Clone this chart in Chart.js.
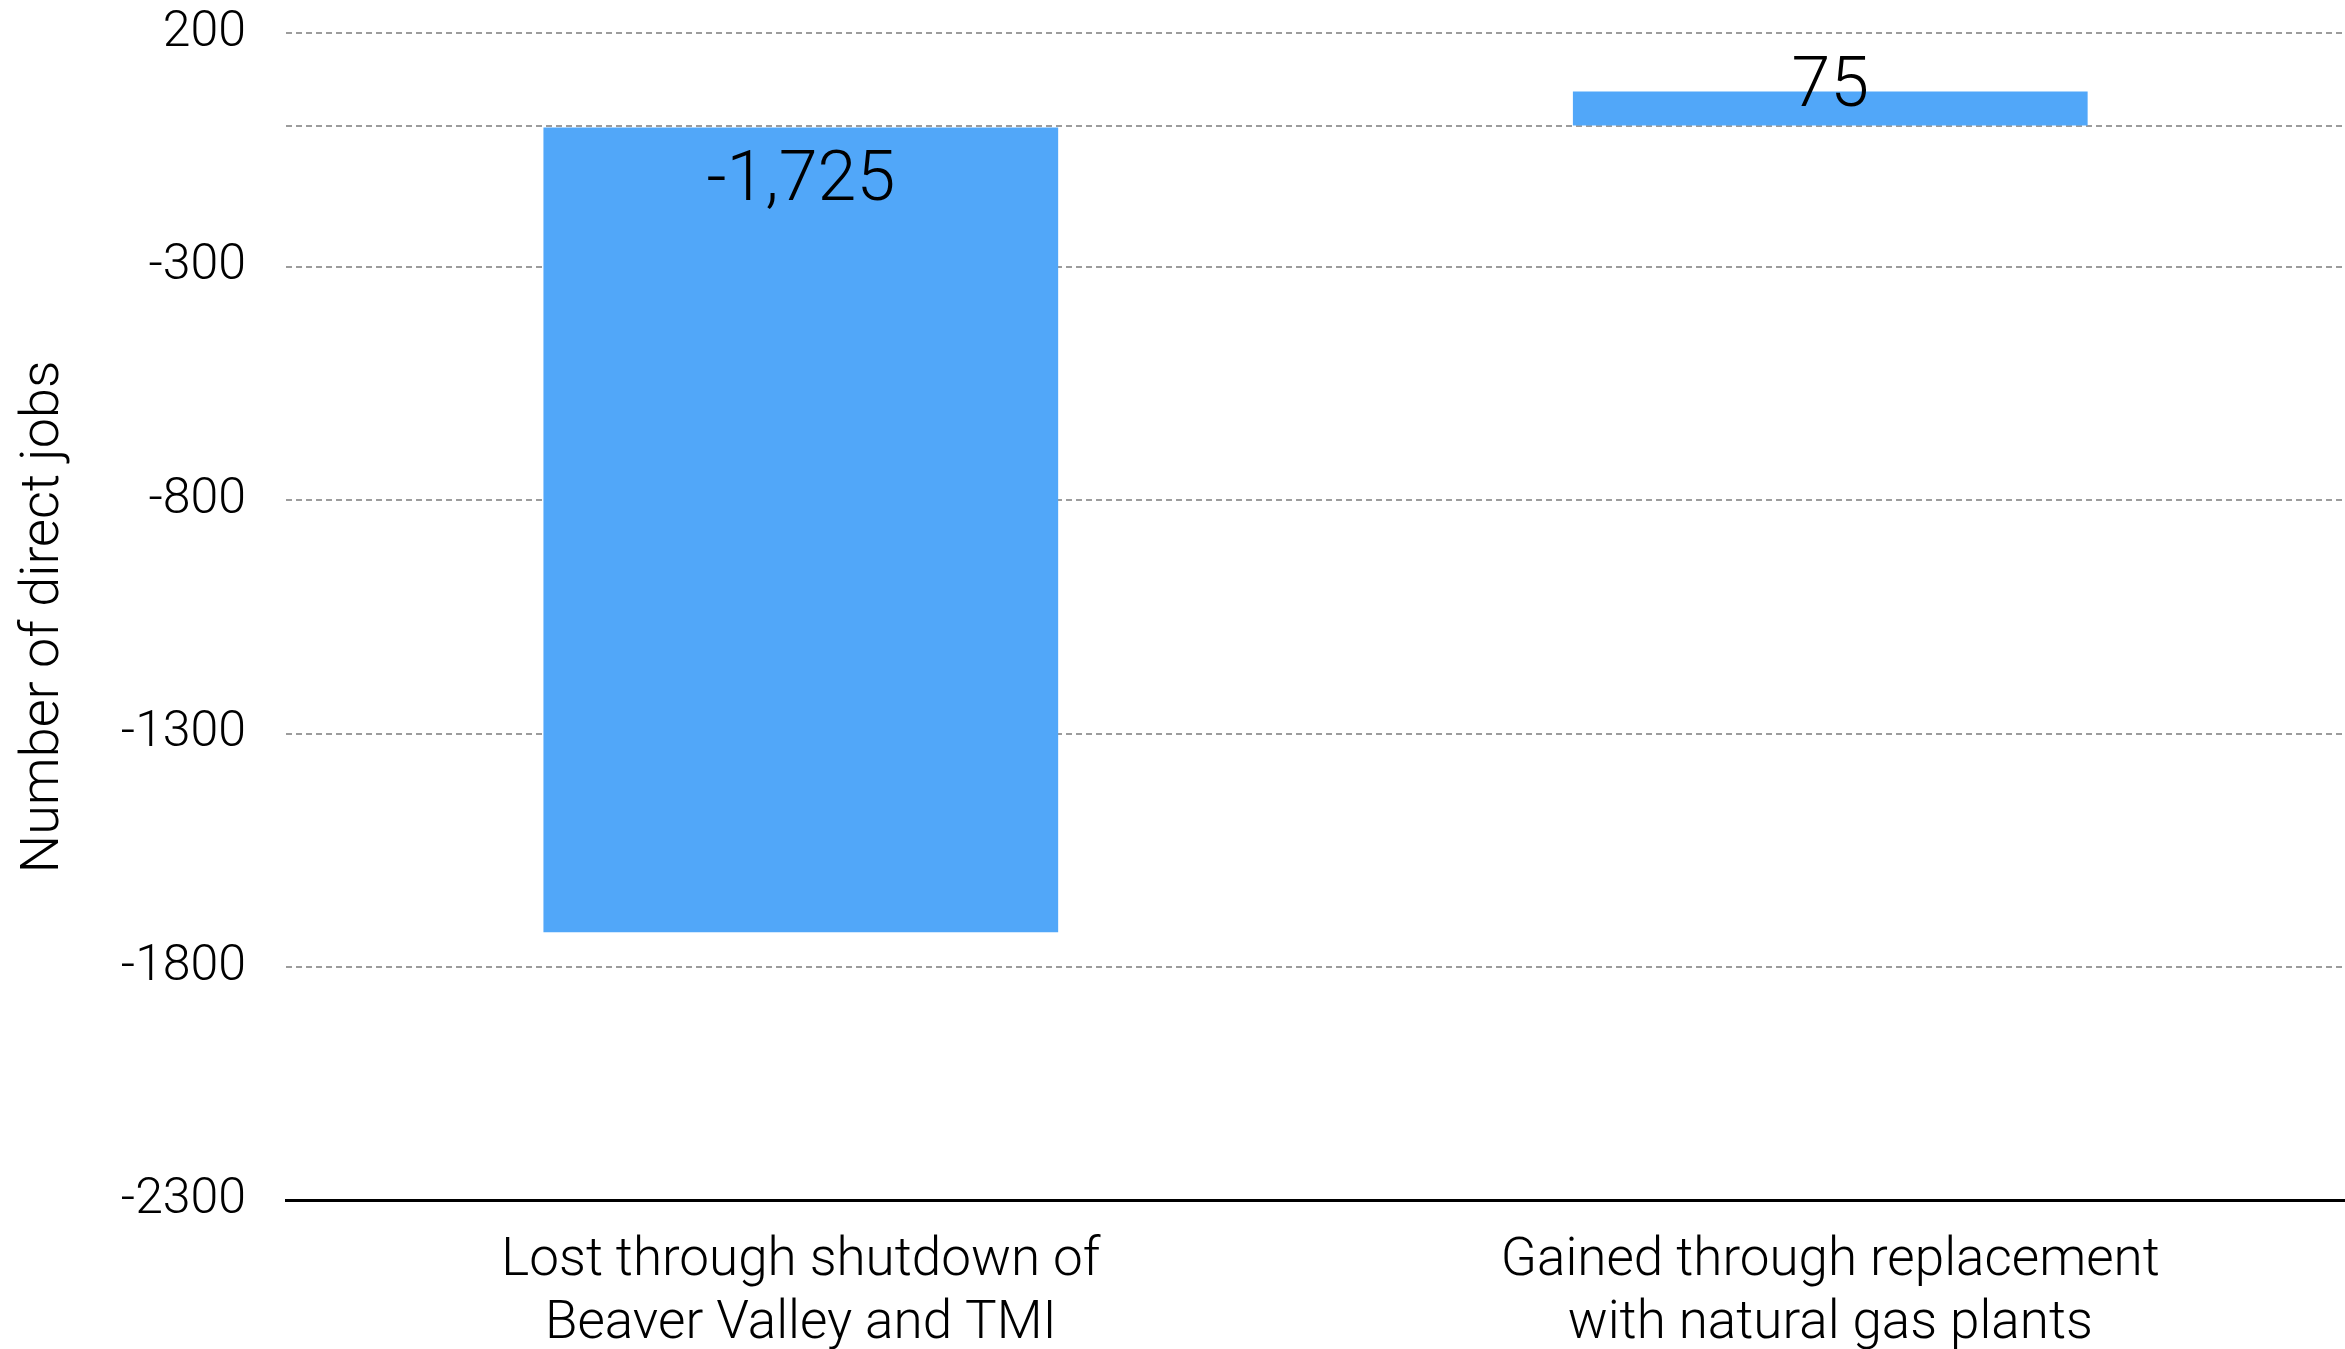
<!DOCTYPE html>
<html>
<head>
<meta charset="utf-8">
<script src="https://cdn.jsdelivr.net/npm/chart.js@4/dist/chart.umd.min.js"></script>
<style>
  html, body { margin: 0; padding: 0; background: #fff; overflow: hidden; }
  #wrap { width: 2345px; height: 1423px; margin-top: -37px; }
</style>
</head>
<body>
<div id="wrap"><canvas id="jobsChart"></canvas></div>
<script>
// direct jobs lost vs gained
const categories = [
  ['Lost through shutdown of', 'Beaver Valley and TMI'],
  ['Gained through replacement', 'with natural gas plants'],
];
const jobs = [-1725, 75];
const jobLabels = ['-1,725', '75'];
const yTicks = [-2300, -1800, -1300, -800, -300, 0, 200];

const FONT = 'Roboto, "Helvetica Neue", "Liberation Sans", sans-serif';

// value labels: inside the bar for losses, just above for gains
const barLabels = {
  id: 'barLabels',
  afterDatasetsDraw(chart) {
    const { ctx } = chart;
    const meta = chart.getDatasetMeta(0);
    ctx.save();
    ctx.font = '300 70px ' + FONT;
    ctx.fillStyle = '#000';
    ctx.textAlign = 'center';
    ctx.textBaseline = 'middle';
    meta.data.forEach((bar, i) => {
      const top = Math.min(bar.y, bar.base);
      const y = jobs[i] < 0 ? top + 55 : top - 3;
      ctx.fillText(jobLabels[i], bar.x, y);
    });
    ctx.restore();
  },
};

const ctx = document.getElementById('jobsChart');

new Chart(ctx, {
  type: 'bar',
  data: {
    labels: categories,
    datasets: [
      {
        label: 'Number of direct jobs',
        data: jobs,
        backgroundColor: '#51a7f9',
        borderWidth: 0,
        barPercentage: 0.5,
        categoryPercentage: 1.0,
      },
    ],
  },
  options: {
    responsive: true,
    maintainAspectRatio: false,
    animation: false,
    layout: {
      padding: { top: 2, right: 0, bottom: 0, left: 12 },
    },
    plugins: {
      legend: { display: false },
      tooltip: { enabled: false },
    },
    scales: {
      x: {
        grid: { display: false, drawTicks: false },
        border: { display: true, color: '#000', width: 3 },
        ticks: {
          color: '#000',
          padding: 30,
          font: { family: FONT, size: 53, weight: '300', lineHeight: 1.18 },
        },
      },
      y: {
        min: -2300,
        max: 200,
        afterBuildTicks: (scale) => {
          scale.ticks = yTicks.map((v) => ({ value: v }));
        },
        border: { display: false, dash: [6, 4] },
        grid: {
          drawTicks: false,
          color: (c) => (c.tick && c.tick.value === -2300 ? 'rgba(0,0,0,0)' : '#9c9c9c'),
          lineWidth: 2,
        },
        ticks: {
          color: '#000',
          padding: 40,
          font: { family: FONT, size: 50, weight: '300' },
          callback: (value) => (value === 0 ? '' : String(value)),
        },
        title: {
          display: true,
          text: 'Number of direct jobs',
          color: '#000',
          padding: { top: 0, bottom: 4 },
          font: { family: FONT, size: 54, weight: '300' },
        },
      },
    },
  },
  plugins: [barLabels],
});
</script>
</body>
</html>
